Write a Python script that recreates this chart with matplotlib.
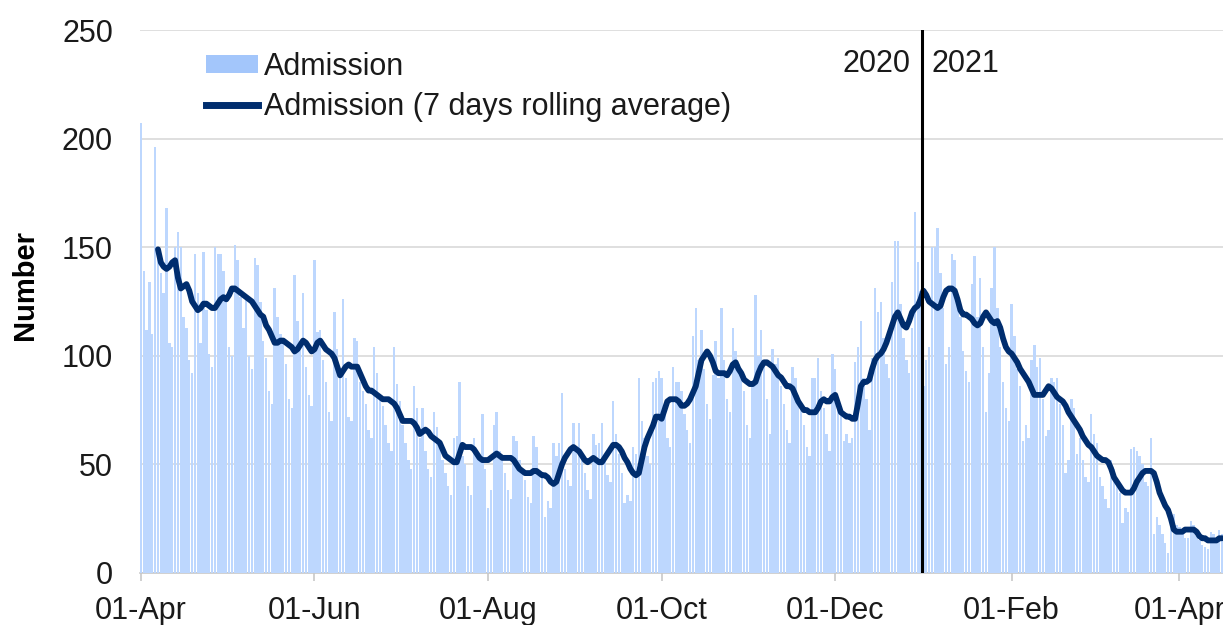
import matplotlib
matplotlib.use('Agg')
import matplotlib.pyplot as plt
import matplotlib.dates as mdates
import pandas as pd
from matplotlib.patches import Patch
from matplotlib.lines import Line2D

plt.rcParams['font.family'] = ['Liberation Sans', 'DejaVu Sans']

# ---------------- data ----------------
start_date = '2020-04-01'

# daily admissions (one value per day from 2020-04-01)
admissions = [
    207, 139, 112, 134, 110, 196, 146,
    138, 129, 168, 106, 104, 150, 157,
    150, 118, 113, 98, 92, 147, 129,
    106, 148, 121, 101, 95, 150, 147,
    147, 139, 125, 104, 100, 151, 144,
    127, 113, 126, 100, 94, 145, 142,
    125, 107, 99, 84, 78, 131, 118,
    110, 106, 96, 80, 76, 137, 116,
    104, 129, 95, 82, 77, 144, 111,
    112, 98, 88, 74, 70, 120, 103,
    92, 126, 90, 72, 70, 108, 107,
    88, 84, 78, 66, 62, 104, 92,
    80, 77, 68, 60, 56, 104, 87,
    79, 68, 60, 52, 48, 86, 76,
    62, 76, 56, 48, 44, 74, 67,
    58, 52, 46, 40, 36, 62, 63,
    88, 54, 50, 40, 36, 62, 55,
    54, 73, 48, 30, 38, 68, 74,
    56, 52, 46, 38, 34, 63, 61,
    52, 46, 43, 35, 32, 63, 58,
    47, 44, 26, 33, 30, 60, 54,
    60, 83, 48, 43, 40, 69, 56,
    69, 54, 46, 38, 34, 64, 59,
    60, 69, 54, 45, 42, 79, 64,
    55, 46, 32, 36, 33, 58, 55,
    90, 70, 62, 54, 50, 88, 90,
    93, 90, 74, 62, 58, 95, 88,
    88, 84, 73, 66, 60, 109, 122,
    98, 112, 94, 78, 71, 91, 107,
    90, 122, 98, 80, 74, 113, 102,
    96, 90, 84, 68, 62, 88, 128,
    100, 112, 96, 80, 64, 103, 96,
    99, 86, 78, 66, 60, 95, 90,
    82, 76, 68, 58, 54, 90, 90,
    99, 84, 76, 64, 56, 101, 94,
    78, 75, 61, 64, 60, 62, 97,
    104, 116, 90, 80, 66, 99, 131,
    120, 125, 108, 96, 90, 134, 153,
    153, 124, 108, 98, 92, 113, 166,
    143, 130, 86, 98, 104, 150, 150,
    159, 138, 122, 96, 104, 147, 144,
    125, 118, 102, 93, 88, 133, 146,
    118, 136, 104, 74, 92, 131, 150,
    122, 104, 88, 76, 70, 124, 109,
    94, 86, 61, 68, 62, 98, 105,
    95, 99, 80, 63, 66, 90, 88,
    90, 78, 68, 46, 52, 80, 76,
    55, 62, 52, 44, 42, 73, 64,
    60, 44, 40, 34, 30, 52, 48,
    40, 37, 23, 30, 28, 57, 58,
    56, 54, 50, 42, 40, 62, 18,
    26, 22, 18, 14, 9, 24, 27,
    22, 21, 19, 16, 16, 24, 22,
    17, 15, 13, 12, 11, 19, 18,
    16, 20, 18,
]

# 7 days rolling average (one value per day from 2020-04-07)
rolling_avg = [
    149, 143, 141, 140, 141, 143, 144, 136, 131, 132, 133, 130, 125, 123,
    121, 122, 124, 124, 123, 122, 122, 124, 126, 127, 126, 128, 131, 131,
    130, 129, 128, 127, 126, 125, 123, 121, 119, 118, 114, 112, 109, 106,
    106, 107, 107, 106, 105, 104, 102, 103, 105, 107, 106, 104, 102, 103,
    106, 107, 105, 103, 102, 101, 99, 95, 91, 93, 95, 96, 95, 95,
    95, 92, 89, 86, 84, 84, 83, 82, 81, 80, 80, 80, 79, 78,
    76, 73, 70, 70, 70, 70, 69, 67, 64, 65, 66, 65, 63, 62,
    61, 60, 57, 54, 53, 52, 51, 51, 55, 59, 58, 58, 58, 57,
    55, 53, 52, 52, 52, 53, 54, 55, 54, 53, 53, 53, 53, 52,
    50, 48, 47, 46, 46, 46, 47, 47, 46, 45, 45, 44, 42, 41,
    42, 46, 50, 53, 55, 57, 58, 57, 56, 54, 52, 51, 52, 53,
    52, 51, 51, 53, 55, 57, 59, 59, 58, 56, 53, 51, 48, 46,
    45, 46, 52, 58, 62, 65, 68, 72, 72, 71, 75, 79, 80, 80,
    80, 79, 77, 77, 78, 80, 83, 86, 92, 98, 100, 102, 100, 97,
    93, 92, 92, 92, 91, 93, 96, 97, 94, 92, 89, 88, 87, 87,
    88, 92, 95, 97, 97, 96, 95, 93, 91, 90, 88, 86, 86, 85,
    82, 79, 77, 75, 75, 74, 74, 74, 76, 79, 80, 79, 79, 81,
    82, 78, 74, 73, 72, 72, 71, 71, 78, 86, 88, 88, 89, 94,
    98, 100, 101, 103, 106, 110, 114, 118, 120, 117, 114, 113, 116, 120,
    122, 123, 126, 130, 128, 125, 124, 123, 122, 123, 127, 130, 131, 131,
    130, 126, 121, 119, 119, 118, 117, 115, 114, 115, 118, 120, 118, 116,
    115, 116, 113, 108, 104, 102, 101, 99, 97, 94, 92, 90, 88, 85,
    82, 82, 82, 82, 84, 86, 85, 83, 81, 80, 79, 77, 74, 72,
    70, 68, 66, 63, 61, 59, 58, 56, 54, 53, 52, 52, 51, 48,
    44, 42, 40, 38, 37, 37, 37, 39, 42, 44, 46, 47, 47, 47,
    46, 42, 37, 34, 31, 29, 25, 20, 19, 19, 19, 20, 20, 20,
    20, 19, 17, 16, 16, 15, 15, 15, 15, 16, 16,
]

series_names = ['Admission', 'Admission (7 days rolling average)']
tick_dates = ['2020-04-01', '2020-06-01', '2020-08-01', '2020-10-01',
              '2020-12-01', '2021-02-01', '2021-04-01']
tick_labels = ['01-Apr', '01-Jun', '01-Aug', '01-Oct', '01-Dec', '01-Feb', '01-Apr']
y_ticks = [0, 50, 100, 150, 200, 250]
year_break = '2021-01-01'
year_labels = ['2020', '2021']
y_label = 'Number'

# ---------------- style ----------------
bar_color = '#BDD7FE'
legend_patch_color = '#A3C6FB'
line_color = '#002D6E'
grid_color = '#D9D9D9'
fs = 22

dates = pd.date_range(start_date, periods=len(admissions), freq='D')
x_days = mdates.date2num(dates)
avg_days = x_days[len(admissions) - len(rolling_avg):]

fig = plt.figure(figsize=(12.23, 6.25), dpi=100)
ax = fig.add_axes([139.5 / 1223, 52 / 625, (1223 - 139.5) / 1223, 543 / 625])

ax.bar(x_days, admissions, width=0.84, color=bar_color, linewidth=0, zorder=2)
ax.plot(avg_days, rolling_avg, color=line_color, linewidth=4.2,
        solid_joinstyle='round', solid_capstyle='round', zorder=4)

xb = mdates.date2num(pd.Timestamp(year_break)) - 0.5
ax.axvline(xb, color='black', linewidth=2.2, zorder=5)
ax.annotate(year_labels[0], xy=(xb, 234.5), xytext=(-8, 0), textcoords='offset points',
            ha='right', va='center', fontsize=fs, color='#1a1a1a')
ax.annotate(year_labels[1], xy=(xb, 234.5), xytext=(7, 0), textcoords='offset points',
            ha='left', va='center', fontsize=fs, color='#1a1a1a')

ax.set_xlim(x_days[0] - 0.5, x_days[-1] + 0.3)
ax.set_ylim(0, 250)
ax.set_yticks(y_ticks)
ax.set_xticks(mdates.date2num(pd.to_datetime(tick_dates)))
ax.set_xticklabels(tick_labels)

ax.yaxis.grid(True, color=grid_color, linewidth=1.2, zorder=0)
ax.set_axisbelow(True)
for s in ['top', 'right', 'left']:
    ax.spines[s].set_visible(False)
ax.spines['bottom'].set_color('#C8C8C8')
ax.spines['bottom'].set_linewidth(1.2)
ax.spines['bottom'].set_zorder(1)

ax.tick_params(axis='y', length=0, pad=19, labelsize=fs, labelcolor='#1a1a1a')
ax.tick_params(axis='x', length=6, width=1.2, color='#C8C8C8', pad=10.5,
               labelsize=fs, labelcolor='#1a1a1a')

ax.set_ylabel(y_label, fontsize=21, fontweight='bold')
ax.yaxis.set_label_coords(-0.093, 0.53)

handles = [Patch(facecolor=legend_patch_color, edgecolor='none'),
           Line2D([0], [0], color=line_color, linewidth=5)]
leg = ax.legend(handles, series_names, loc='upper left', bbox_to_anchor=(0.061, 0.96),
                frameon=False, fontsize=fs, handlelength=1.7, handleheight=0.55,
                handletextpad=0.2, labelspacing=0.33, borderpad=0, borderaxespad=0)
for t in leg.get_texts():
    t.set_color('#1a1a1a')

fig.savefig('out.png', dpi=100, facecolor='white')
